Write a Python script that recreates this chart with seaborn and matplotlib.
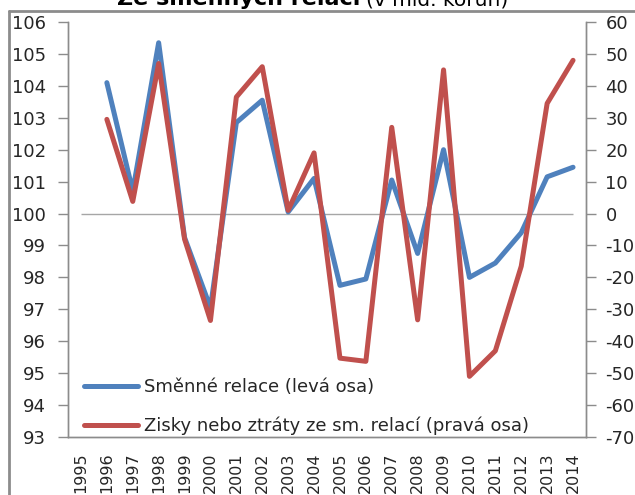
import numpy as np
import pandas as pd
import matplotlib
matplotlib.use("Agg")
import matplotlib.pyplot as plt
import seaborn as sns
from matplotlib.lines import Line2D

sns.set_theme(style="white")
plt.rcParams['font.family'] = ['DejaVu Sans']

# --- data ---
years = [str(y) for y in range(1995, 2015)]
data_years = [str(y) for y in range(1996, 2015)]
smenne_relace = [104.1, 100.7, 105.35, 99.25, 97.05, 102.85, 103.55, 100.05, 101.1,
                 97.75, 97.95, 101.05, 98.75, 102.0, 98.0, 98.45, 99.4, 101.15, 101.45]
zisky_ztraty = [29.5, 3.8, 47.0, -8.0, -33.5, 36.5, 46.0, 1.0, 19.0,
                -45.3, -46.3, 27.0, -33.3, 45.0, -51.0, -43.0, -16.5, 34.5, 48.0]
label_left = "Směnné relace (levá osa)"
label_right = "Zisky nebo ztráty ze sm. relací (pravá osa)"

pos = {y: i for i, y in enumerate(years)}
df = pd.DataFrame({
    "rok": data_years,
    "x": [pos[y] for y in data_years],
    "relace": smenne_relace,
    "zisky": zisky_ztraty,
})

blue = "#4F81BD"
red = "#C0504D"
axis_grey = "#8C8C8C"
fs = 13

fig = plt.figure(figsize=(6.35, 4.95), dpi=100)
ax = fig.add_axes([68/635, 1-437/495, (586-68)/635, (437-22)/495])
ax2 = ax.twinx()

# reference line at 100 / 0
ax.hlines(100, 0, len(years)-1, color="#A6A6A6", lw=1.0, zorder=1)

sns.lineplot(data=df, x="x", y="relace", ax=ax, color=blue, lw=3.6,
             solid_capstyle="round", solid_joinstyle="round", zorder=3)
sns.lineplot(data=df, x="x", y="zisky", ax=ax2, color=red, lw=3.6,
             solid_capstyle="round", solid_joinstyle="round", zorder=3)

ax.set_xlim(-0.5, len(years)-0.5)
ax.set_ylim(93, 106)
ax2.set_ylim(-70, 60)
ax.set_yticks(np.arange(93, 107, 1))
ax2.set_yticks(np.arange(-70, 61, 10))
ax.set_xticks(np.arange(len(years)))
ax.set_xticklabels(years, rotation=90, fontsize=11.5, va="top", ha="center")
ax.set_xticks(np.arange(len(years)+1) - 0.5, minor=True)
ax.tick_params(axis="x", which="major", length=0, pad=11)
ax.tick_params(axis="x", which="minor", length=6, width=1, color=axis_grey, direction="out")
ax.tick_params(axis="y", length=7, width=1, color=axis_grey, labelsize=fs, pad=9, direction="out", left=True)
ax2.tick_params(axis="y", length=7, width=1, color=axis_grey, labelsize=fs, pad=7, direction="out", right=True)
ax.set_xlabel("")
ax.set_ylabel("")
ax2.set_ylabel("")

for a in (ax, ax2):
    a.spines["top"].set_visible(False)
    for side in ("left", "right", "bottom"):
        a.spines[side].set_color(axis_grey)
        a.spines[side].set_linewidth(1)
    a.grid(False)
    a.set_facecolor("none")
ax.yaxis.set_ticklabels([str(v) for v in range(93, 107)])
ax2.yaxis.set_ticklabels([str(v) for v in range(-70, 61, 10)])

handles = [Line2D([], [], color=blue, lw=3.6), Line2D([], [], color=red, lw=3.6)]
leg = ax2.legend(handles, [label_left, label_right], loc="lower left",
                 bbox_to_anchor=(0.01, -0.022), frameon=False, fontsize=fs,
                 handlelength=3.0, handletextpad=0.3, labelspacing=1.15,
                 borderaxespad=0.2)

# outer chart frame (partially visible)
fig.add_artist(Line2D([9/635, 9/635], [0, 1-11/495], transform=fig.transFigure,
                      color="#8C8C8C", lw=2))
fig.add_artist(Line2D([9/635, 1], [1-11/495, 1-11/495], transform=fig.transFigure,
                      color="#8C8C8C", lw=2))

# title (cut off at the top, as in the reference)
fig.text(117/635, 1-5/495, "Ze směnných relací", fontsize=16, fontweight="bold",
         ha="left", va="baseline", color="black")
fig.text(366/635, 1-5/495, "(v mld. korun)", fontsize=14.5,
         ha="left", va="baseline", color="black")

fig.savefig("out.png", dpi=100)
